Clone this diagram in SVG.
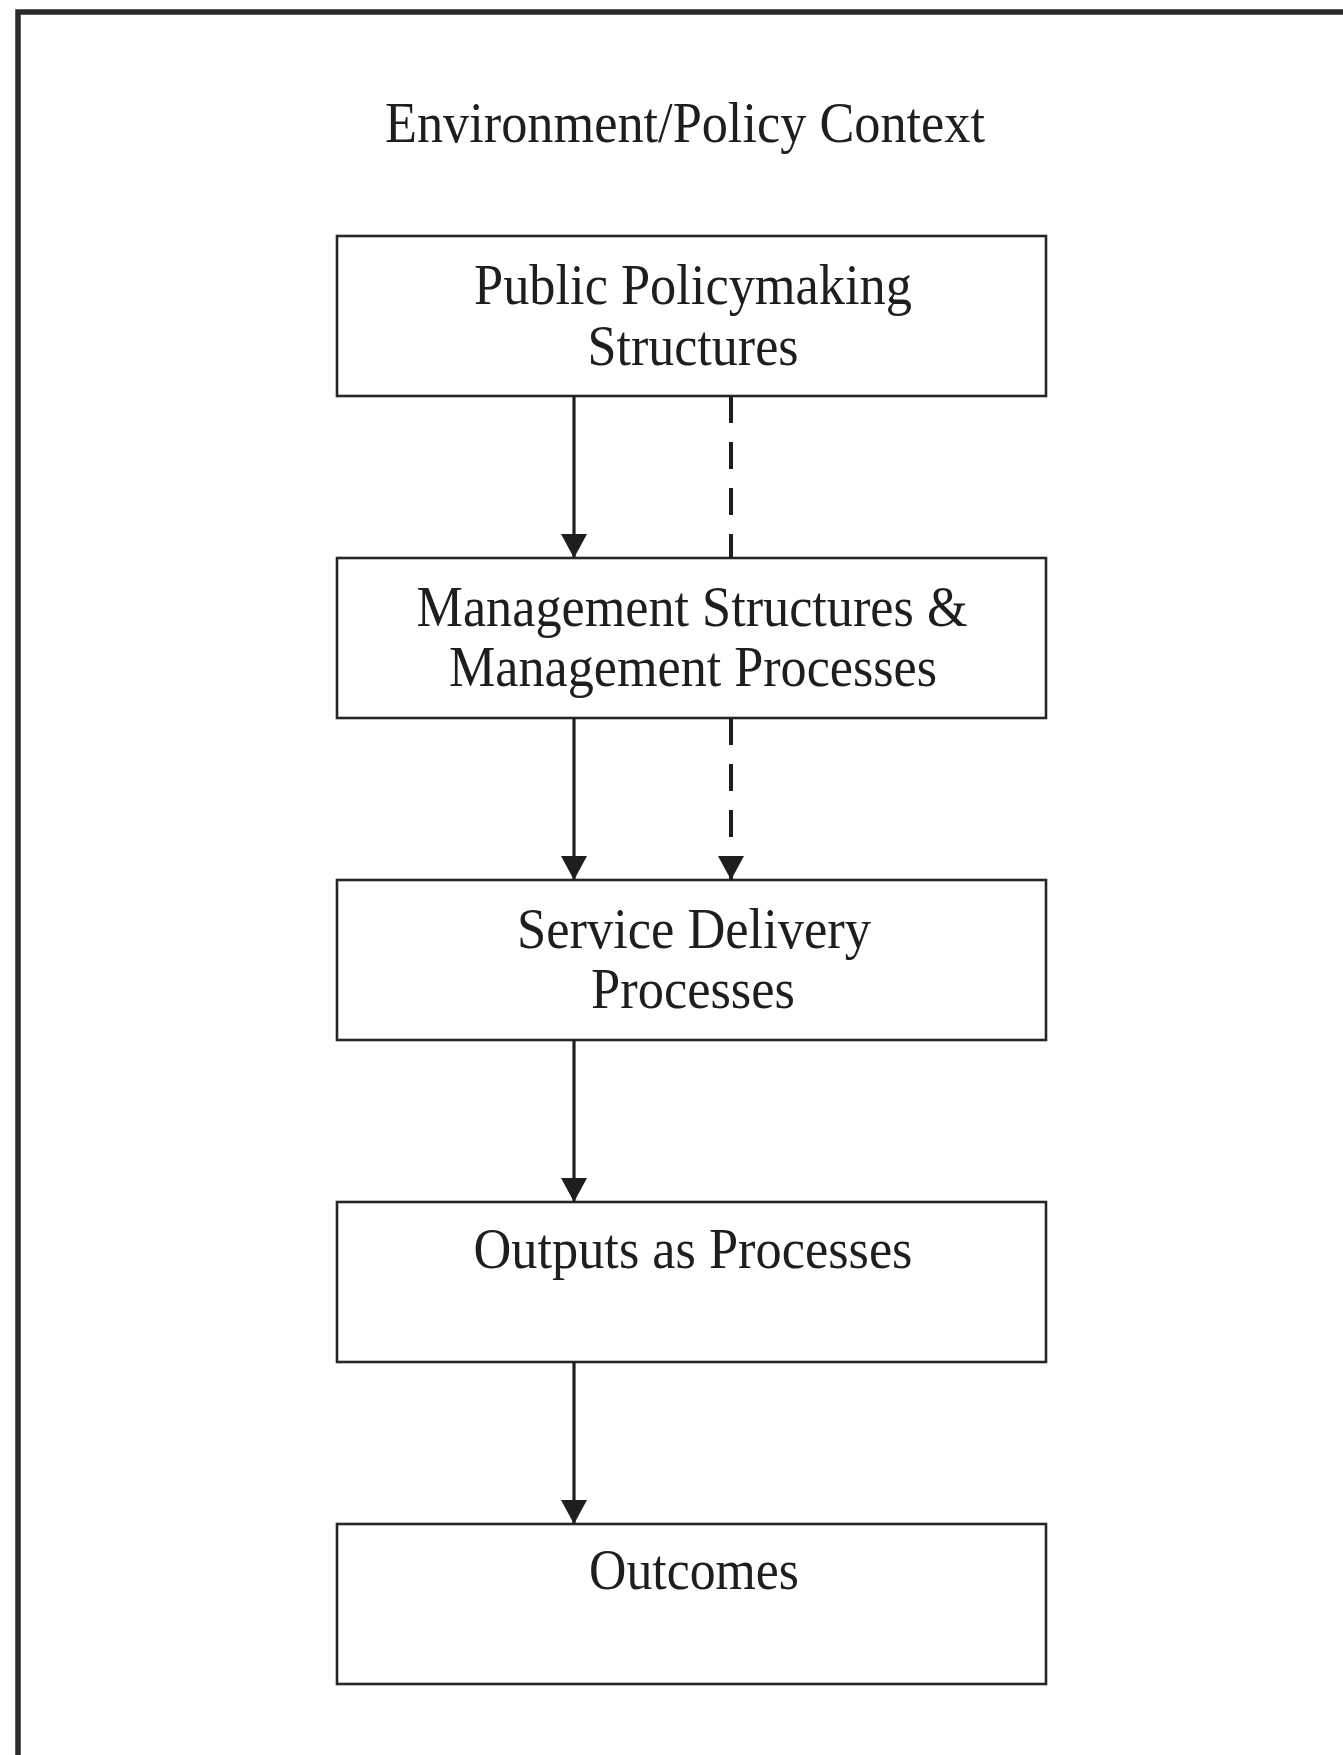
<svg xmlns="http://www.w3.org/2000/svg" width="1343" height="1755" viewBox="0 0 1343 1755">
  <style>
    .frame { fill: none; stroke: #2b2b2b; stroke-width: 5.5; }
    .box { fill: #ffffff; stroke: #262626; stroke-width: 2.6; }
    .lbl { font-family: "Liberation Serif", "Times New Roman", serif; font-size: 57px; fill: #1e1e1e; text-anchor: middle; }
    .flow { fill: none; stroke: #1e1e1e; stroke-width: 3.2; }
    .dash { stroke-width: 4; stroke-dasharray: 27 19; }
  </style>
  <defs>
    <marker id="head" viewBox="0 0 24 26" refX="24" refY="13" markerWidth="24" markerHeight="26" markerUnits="userSpaceOnUse" orient="auto">
      <path d="M0,0 L24,13 L0,26 z" fill="#1e1e1e"/>
    </marker>
  </defs>

  <rect width="1343" height="1755" fill="#ffffff"/>

  <!-- outer frame, running past the right and bottom edges -->
  <path class="frame" d="M18,1770 L18,12 L1360,12"/>

  <text class="lbl" x="685" y="142" textLength="600" lengthAdjust="spacingAndGlyphs">Environment/Policy Context</text>

  <g id="policymaking">
    <rect class="box" x="337" y="236" width="709" height="160"/>
    <text class="lbl" x="693" y="304" textLength="438" lengthAdjust="spacingAndGlyphs">Public Policymaking</text>
    <text class="lbl" x="693" y="365" textLength="211" lengthAdjust="spacingAndGlyphs">Structures</text>
  </g>

  <g id="management">
    <rect class="box" x="337" y="558" width="709" height="160"/>
    <text class="lbl" x="692" y="626" textLength="551" lengthAdjust="spacingAndGlyphs">Management Structures &amp;</text>
    <text class="lbl" x="693" y="686" textLength="488" lengthAdjust="spacingAndGlyphs">Management Processes</text>
  </g>

  <g id="service-delivery">
    <rect class="box" x="337" y="880" width="709" height="160"/>
    <text class="lbl" x="694" y="948" textLength="354" lengthAdjust="spacingAndGlyphs">Service Delivery</text>
    <text class="lbl" x="693" y="1008" textLength="204" lengthAdjust="spacingAndGlyphs">Processes</text>
  </g>

  <g id="outputs">
    <rect class="box" x="337" y="1202" width="709" height="160"/>
    <text class="lbl" x="693" y="1268" textLength="439" lengthAdjust="spacingAndGlyphs">Outputs as Processes</text>
  </g>

  <g id="outcomes">
    <rect class="box" x="337" y="1524" width="709" height="160"/>
    <text class="lbl" x="694" y="1589" textLength="210" lengthAdjust="spacingAndGlyphs">Outcomes</text>
  </g>

  <g id="connectors">
    <line class="flow" x1="574" y1="396" x2="574" y2="558" marker-end="url(#head)"/>
    <line class="flow dash" x1="731" y1="396" x2="731" y2="558"/>
    <line class="flow" x1="574" y1="718" x2="574" y2="880" marker-end="url(#head)"/>
    <line class="flow dash" x1="731" y1="718" x2="731" y2="880" marker-end="url(#head)"/>
    <line class="flow" x1="574" y1="1040" x2="574" y2="1202" marker-end="url(#head)"/>
    <line class="flow" x1="574" y1="1362" x2="574" y2="1524" marker-end="url(#head)"/>
  </g>
</svg>
